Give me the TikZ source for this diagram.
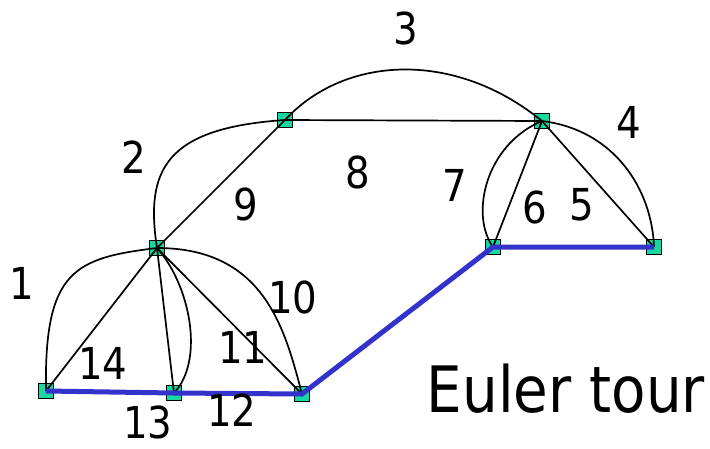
\documentclass[tikz,border=0pt]{standalone}
\usepackage{fontspec}
\setmainfont{DejaVu Sans}[FakeStretch=0.88]
\definecolor{nodegreen}{RGB}{25,215,160}
\definecolor{tourblue}{RGB}{51,51,204}
\begin{document}
\begin{tikzpicture}[x=1pt,y=-1pt,
  vtx/.style={draw=black,line width=1pt,fill=nodegreen,minimum size=14.5pt,inner sep=0pt,rectangle},
  edge/.style={draw=black,line width=1.7pt},
  tour/.style={draw=tourblue,line width=5pt},
  lbl/.style={font=\fontsize{44}{48}\selectfont,inner sep=0pt}]
\useasboundingbox (0,0) rectangle (710,448);
% vertices
\node[vtx] (A) at (285,120) {};
\node[vtx] (B) at (542,121) {};
\node[vtx] (C) at (157,248) {};
\node[vtx] (D) at (493,247) {};
\node[vtx] (E) at (654,247) {};
\node[vtx] (F) at (46,391) {};
\node[vtx] (G) at (174,393) {};
\node[vtx] (H) at (302,394) {};
% black edges
\draw[edge] (C.center) .. controls (75,258) and (44,270) .. (F.center);
\draw[edge] (A.center) .. controls (165,128) and (145,170) .. (C.center);
\draw[edge] (A.center) .. controls (345,55) and (455,50) .. (B.center);
\draw[edge] (B.center) .. controls (615,130) and (652,190) .. (E.center);
\draw[edge] (B.center) -- (E.center);
\draw[edge] (B.center) -- (D.center);
\draw[edge] (B.center) .. controls (485,145) and (470,215) .. (D.center);
\draw[edge] (A.center) -- (B.center);
\draw[edge] (A.center) -- (C.center);
\draw[edge] (C.center) .. controls (265,248) and (285,330) .. (H.center);
\draw[edge] (C.center) -- (H.center);
\draw[edge] (C.center) -- (G.center);
\draw[edge] (C.center) .. controls (190,285) and (205,360) .. (G.center);
\draw[edge] (C.center) -- (F.center);
% tour
\draw[tour] (F.center) -- (G.center) -- (H.center) -- (D.center) -- (E.center);
% labels
\node[lbl] (l1) at (22,283) {1};
\node[lbl] (l2) at (134,157) {2};
\node[lbl] (l3) at (406,28) {3};
\node[lbl] (l4) at (629,122) {4};
\node[lbl] (l5) at (582,205) {5};
\node[lbl] (l6) at (535,207) {6};
\node[lbl] (l7) at (455,185) {7};
\node[lbl] (l8) at (358,172) {8};
\node[lbl] (l9) at (246,204) {9};
\node[lbl] (l10) at (293,297) {10};
\node[lbl] (l11) at (243,347) {11};
\node[lbl] (l12) at (232,410) {12};
\node[lbl] (l13) at (148,422) {13};
\node[lbl] (l14) at (103,363) {14};
\node[font=\fontsize{64}{70}\selectfont,inner sep=0pt] (title) at (566,389) {Euler tour};
\end{tikzpicture}
\end{document}
